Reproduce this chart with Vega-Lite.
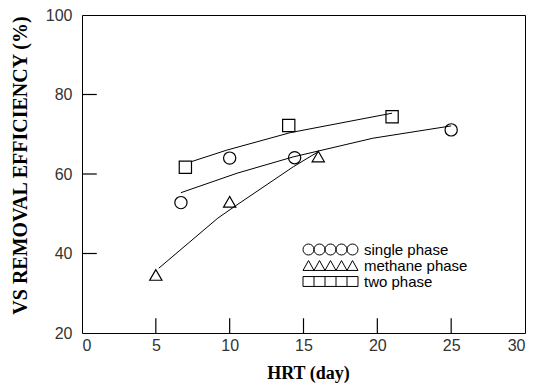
{
  "$schema": "https://vega.github.io/schema/vega-lite/v6.json",
  "width": 443,
  "height": 318,
  "autosize": "none",
  "padding": {"left": 82, "top": 15, "right": 11, "bottom": 53},
  "background": "white",
  "config": {
    "view": {"stroke": "black", "strokeWidth": 1},
    "axis": {
      "domain": false,
      "ticks": false,
      "grid": false,
      "labelFont": "Liberation Sans",
      "labelFontSize": 16,
      "labelColor": "#333",
      "titleFont": "Liberation Serif",
      "titleFontWeight": "bold",
      "titleColor": "black"
    }
  },
  "datasets": {
    "points": [
      {"series": "single phase", "hrt": 6.7, "eff": 52.8},
      {"series": "single phase", "hrt": 10.0, "eff": 64.0},
      {"series": "single phase", "hrt": 14.4, "eff": 64.1},
      {"series": "single phase", "hrt": 25.0, "eff": 71.1},
      {"series": "methane phase", "hrt": 5.0, "eff": 34.6},
      {"series": "methane phase", "hrt": 10.0, "eff": 53.0},
      {"series": "methane phase", "hrt": 16.0, "eff": 64.4},
      {"series": "two phase", "hrt": 7.0, "eff": 61.7},
      {"series": "two phase", "hrt": 14.0, "eff": 72.2},
      {"series": "two phase", "hrt": 21.0, "eff": 74.4}
    ],
    "fits": [
      {"series": "single phase", "hrt": 6.7, "eff": 55.3},
      {"series": "single phase", "hrt": 10.5, "eff": 60.2},
      {"series": "single phase", "hrt": 14.3, "eff": 64.3},
      {"series": "single phase", "hrt": 19.7, "eff": 69.0},
      {"series": "single phase", "hrt": 25.0, "eff": 72.1},
      {"series": "methane phase", "hrt": 5.2, "eff": 36.3},
      {"series": "methane phase", "hrt": 9.2, "eff": 48.9},
      {"series": "methane phase", "hrt": 10.4, "eff": 52.0},
      {"series": "methane phase", "hrt": 14.3, "eff": 61.8},
      {"series": "methane phase", "hrt": 16.0, "eff": 65.6},
      {"series": "two phase", "hrt": 7.4, "eff": 63.1},
      {"series": "two phase", "hrt": 9.8, "eff": 66.0},
      {"series": "two phase", "hrt": 14.1, "eff": 70.4},
      {"series": "two phase", "hrt": 21.0, "eff": 75.3}
    ],
    "xticks": [{"t": 5}, {"t": 10}, {"t": 15}, {"t": 20}, {"t": 25}],
    "yticks": [{"t": 40}, {"t": 60}, {"t": 80}]
  },
  "resolve": {"scale": {"shape": "independent"}},
  "layer": [
    {
      "data": {"name": "fits"},
      "mark": {"type": "line", "color": "black", "strokeWidth": 1},
      "encoding": {
        "x": {
          "field": "hrt", "type": "quantitative",
          "scale": {"domain": [0, 30], "nice": false, "zero": false},
          "axis": {"values": [0, 5, 10, 15, 20, 25, 30], "ticks": false, "labelPadding": 4, "title": "HRT (day)", "titleFontSize": 18, "titleX": 226, "titlePadding": 11}
        },
        "y": {
          "field": "eff", "type": "quantitative",
          "scale": {"domain": [20, 100], "nice": false, "zero": false},
          "axis": {"values": [20, 40, 60, 80, 100], "ticks": false, "labelPadding": 10, "title": "VS REMOVAL EFFICIENCY (%)", "titleFontSize": 20, "titleY": 150, "titlePadding": 15}
        },
        "detail": {"field": "series"}
      }
    },
    {
      "data": {"name": "xticks"},
      "mark": {"type": "rule", "color": "black", "strokeWidth": 1.2},
      "encoding": {
        "x": {"field": "t", "type": "quantitative"},
        "y": {"datum": 20},
        "y2": {"datum": 23.7}
      }
    },
    {
      "data": {"name": "yticks"},
      "mark": {"type": "rule", "color": "black", "strokeWidth": 1.2},
      "encoding": {
        "y": {"field": "t", "type": "quantitative"},
        "x": {"datum": 0},
        "x2": {"datum": 1.0}
      }
    },
    {
      "data": {"name": "points"},
      "mark": {"type": "point", "filled": false, "color": "black", "strokeWidth": 1.2, "size": 150, "opacity": 1},
      "encoding": {
        "x": {"field": "hrt", "type": "quantitative"},
        "y": {"field": "eff", "type": "quantitative"},
        "shape": {
          "field": "series", "type": "nominal",
          "scale": {"domain": ["single phase", "methane phase", "two phase"], "range": ["circle", "triangle-up", "square"]},
          "legend": null
        }
      }
    },
    {
      "data": {"name": "points"},
      "mark": {"type": "point", "filled": false, "color": "black", "strokeWidth": 1, "size": 121, "opacity": 0},
      "encoding": {
        "x": {"field": "hrt", "type": "quantitative"},
        "y": {"field": "eff", "type": "quantitative"},
        "shape": {
          "field": "series", "type": "nominal",
          "scale": {
            "domain": ["single phase", "methane phase", "two phase"],
            "range": [
              "M -3,0 A 1,1 0 1,1 -5,0 A 1,1 0 1,1 -3,0 Z M -1,0 A 1,1 0 1,1 -3,0 A 1,1 0 1,1 -1,0 Z M 1,0 A 1,1 0 1,1 -1,0 A 1,1 0 1,1 1,0 Z M 3,0 A 1,1 0 1,1 1,0 A 1,1 0 1,1 3,0 Z M 5,0 A 1,1 0 1,1 3,0 A 1,1 0 1,1 5,0 Z",
              "M -5,0.9 L -4,-0.9 L -3,0.9 Z M -3,0.9 L -2,-0.9 L -1,0.9 Z M -1,0.9 L 0,-0.9 L 1,0.9 Z M 1,0.9 L 2,-0.9 L 3,0.9 Z M 3,0.9 L 4,-0.9 L 5,0.9 Z",
              "M -5,-0.9 L 5,-0.9 L 5,0.9 L -5,0.9 Z M -3,-0.9 L -3,0.9 M -1,-0.9 L -1,0.9 M 1,-0.9 L 1,0.9 M 3,-0.9 L 3,0.9"
            ]
          },
          "legend": {
            "orient": "none", "legendX": 241, "legendY": 227, "title": null, "padding": 0,
            "symbolSize": 121, "symbolOpacity": 1, "symbolStrokeColor": "black", "symbolStrokeWidth": 1, "symbolFillColor": "transparent",
            "labelFont": "Liberation Sans", "labelFontSize": 15, "labelColor": "black", "labelOffset": 26, "rowPadding": 0
          }
        }
      }
    }
  ]
}
